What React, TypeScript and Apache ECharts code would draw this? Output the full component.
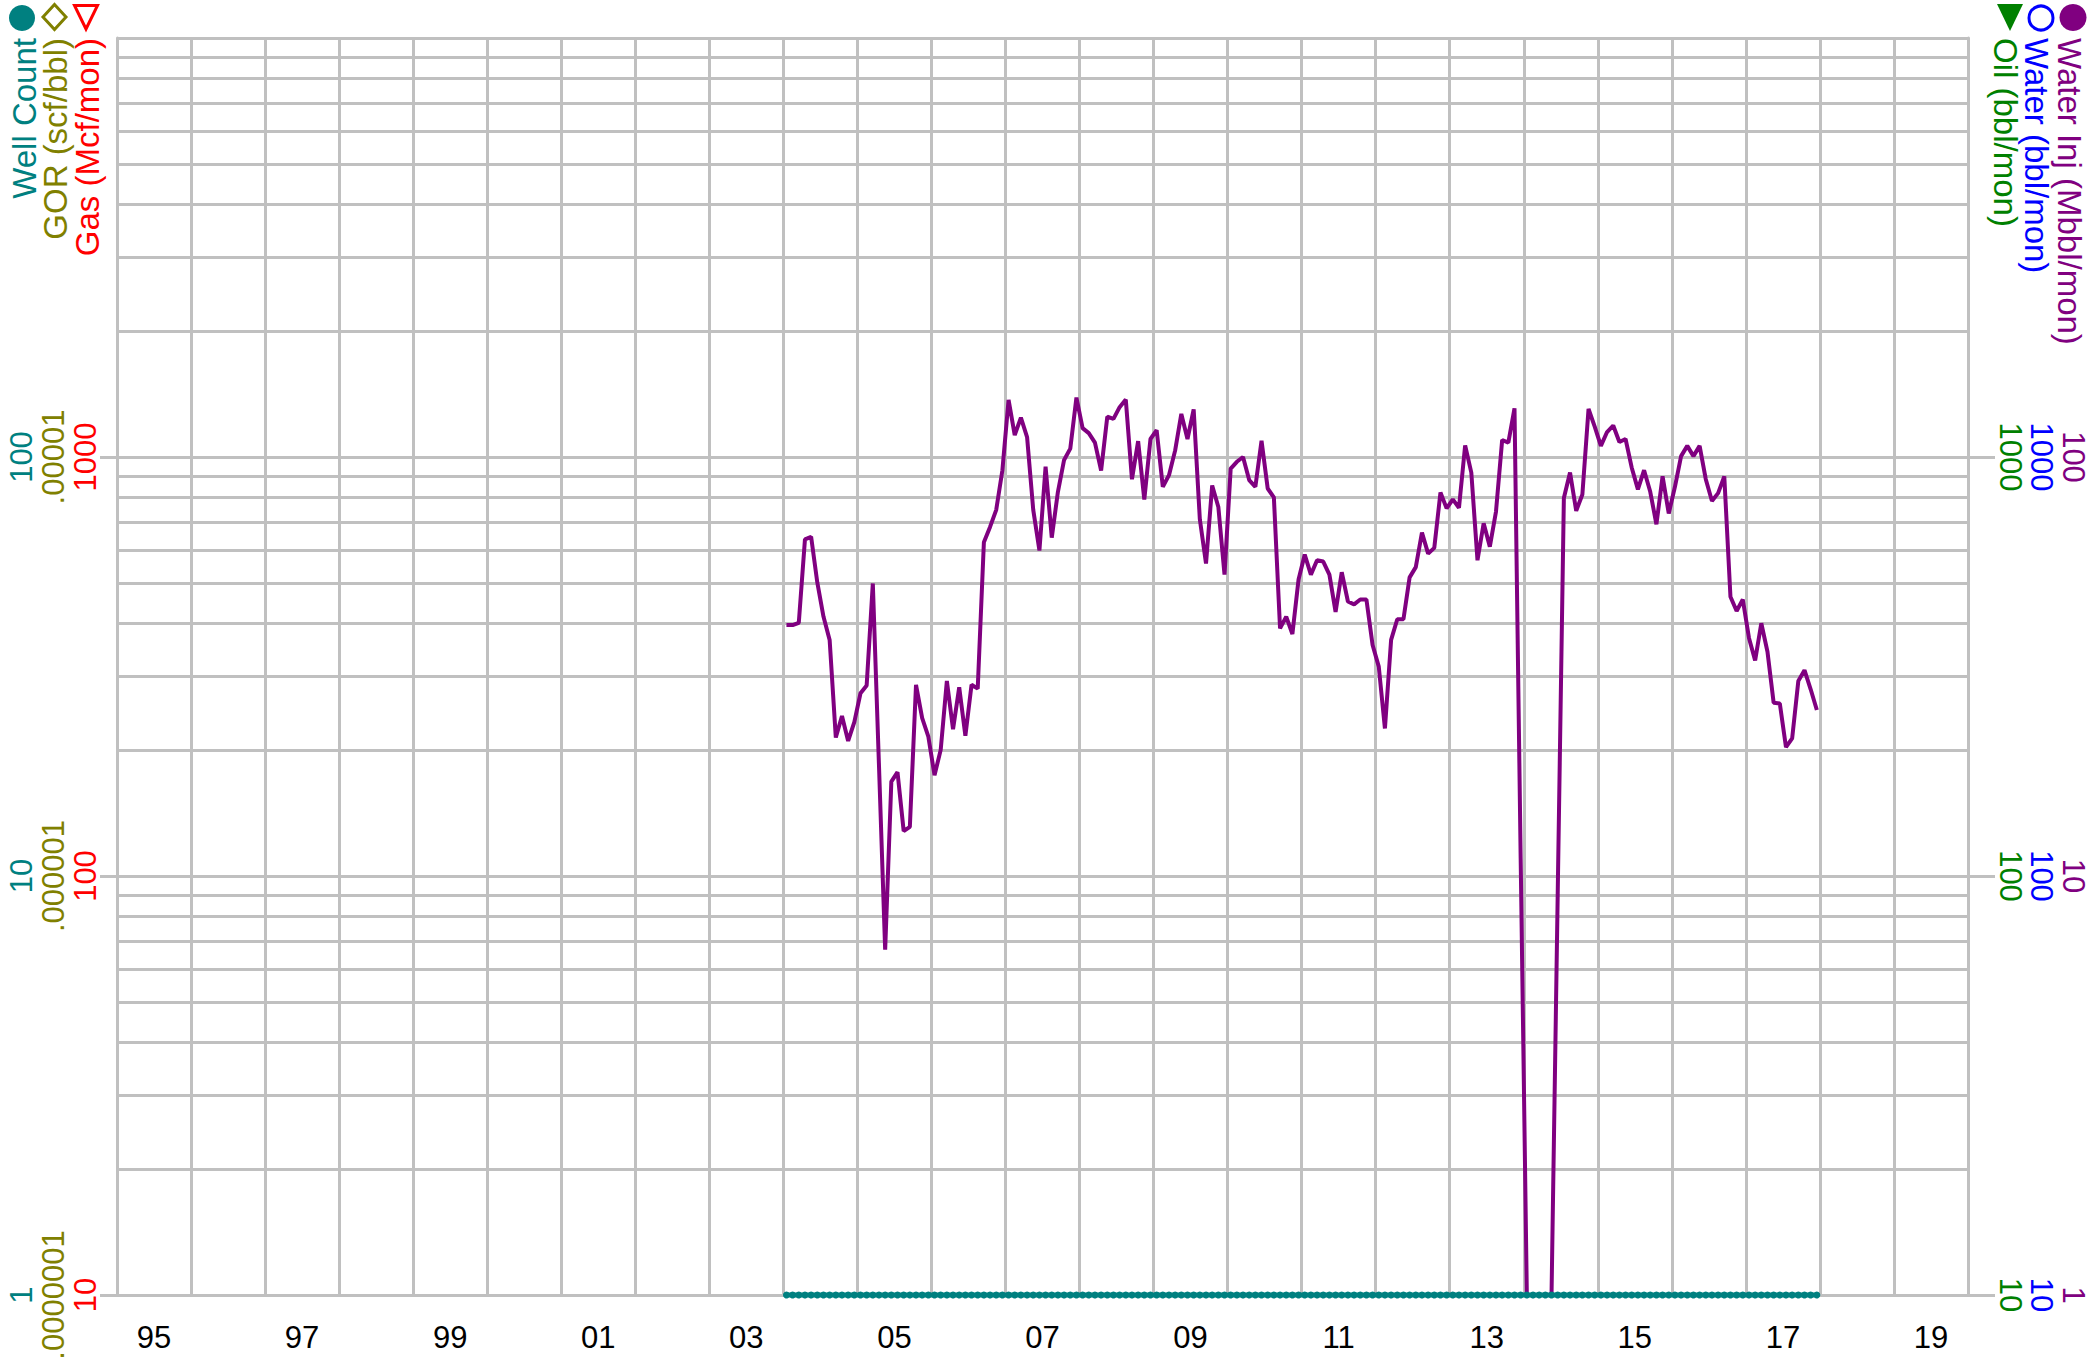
import React, { useEffect, useRef } from 'react';
import * as echarts from 'echarts';

// x-axis year labels (one category per year, labelled every other year)
const yearLabels = ['95', '96', '97', '98', '99', '00', '01', '02', '03', '04', '05', '06', '07', '08', '09', '10', '11', '12', '13', '14', '15', '16', '17', '18', '19'];
const xStart = 1995;
const xEnd = 2020;
const dataStartYear = 2004;

// Water injection, Mbbl/mon, monthly Jan 2004 .. Dec 2017
const waterInj = [
  39.7, 39.7, 40.2, 63.6, 64.5, 50.2, 41.6, 36.6, 21.4, 24.1, 21.0, 23.3,
  27.3, 28.5, 49.9, 18.3, 6.67, 16.8, 17.7, 12.8, 13.1, 28.6, 23.8, 21.5,
  17.4, 20.0, 29.2, 22.4, 28.2, 21.6, 28.6, 28.0, 62.6, 68.1, 74.8, 93.0,
  136.9, 112.8, 124.2, 111.6, 74.8, 59.8, 94.8, 64.2, 82.6, 98.4, 104.7, 138.6,
  117.2, 114.0, 108.2, 92.8, 124.8, 123.3, 131.5, 137.1, 88.5, 109.1, 79.2, 110.4,
  115.9, 84.9, 90.5, 103.7, 126.7, 110.4, 129.9, 71.0, 55.7, 85.5, 76.0, 52.4,
  93.8, 97.4, 100.0, 88.1, 84.9, 109.3, 84.1, 80.1, 39.0, 41.6, 37.8, 51.0,
  58.5, 52.4, 56.7, 56.3, 52.4, 42.7, 53.1, 45.2, 44.5, 45.7, 45.7, 35.6,
  31.6, 22.5, 36.6, 41.0, 41.0, 51.6, 54.6, 66.0, 58.8, 60.7, 82.3, 75.4,
  79.2, 75.6, 106.6, 91.8, 56.7, 69.5, 61.1, 74.1, 109.8, 108.2, 130.7, 11,
  1, 1, 1, 1, 1, 9, 79.8, 91.8, 74.4, 81.4, 130.2, 118.2,
  106.3, 114.7, 118.9, 108.6, 110.4, 94.3, 83.7, 93.0, 82.6, 69.1, 89.9, 73.3,
  84.9, 100.5, 106.3, 100.5, 106.3, 88.5, 78.5, 82.0, 89.9, 46.4, 42.9, 45.7,
  37.0, 32.7, 40.1, 34.3, 25.9, 25.8, 20.3, 21.3, 29.2, 31.0, 27.9, 24.9,
];

// Well count, monthly Jan 2004 .. Dec 2017
const wellCount = [
  1, 1, 1, 1, 1, 1, 1, 1, 1, 1, 1, 1,
  1, 1, 1, 1, 1, 1, 1, 1, 1, 1, 1, 1,
  1, 1, 1, 1, 1, 1, 1, 1, 1, 1, 1, 1,
  1, 1, 1, 1, 1, 1, 1, 1, 1, 1, 1, 1,
  1, 1, 1, 1, 1, 1, 1, 1, 1, 1, 1, 1,
  1, 1, 1, 1, 1, 1, 1, 1, 1, 1, 1, 1,
  1, 1, 1, 1, 1, 1, 1, 1, 1, 1, 1, 1,
  1, 1, 1, 1, 1, 1, 1, 1, 1, 1, 1, 1,
  1, 1, 1, 1, 1, 1, 1, 1, 1, 1, 1, 1,
  1, 1, 1, 1, 1, 1, 1, 1, 1, 1, 1, 1,
  1, 1, 1, 1, 1, 1, 1, 1, 1, 1, 1, 1,
  1, 1, 1, 1, 1, 1, 1, 1, 1, 1, 1, 1,
  1, 1, 1, 1, 1, 1, 1, 1, 1, 1, 1, 1,
  1, 1, 1, 1, 1, 1, 1, 1, 1, 1, 1, 1,
];

// minor log gridlines on the 1..1000 scale
const minorGrid = [2, 3, 4, 5, 6, 7, 8, 9, 20, 30, 40, 50, 60, 70, 80, 90, 200, 300, 400, 500, 600, 700, 800, 900];

const FONT = '"Liberation Sans", Arial, Helvetica, sans-serif';
const GRID = '#c0c0c0';
const PURPLE = '#800080';
const TEAL = '#008080';
const OLIVE = '#808000';
const RED = '#ff0000';
const BLUE = '#0000ff';
const GREEN = '#008000';

export default function App() {
  const ref = useRef<HTMLDivElement>(null);

  useEffect(() => {
    const chart = echarts.init(ref.current as HTMLDivElement, null, { renderer: 'svg' });
    const monthX = (i: number) => dataStartYear + (i + 0.5) / 12;
    const fmtInt = (v: number) => String(Math.round(v));
    const fmtDec = (v: number) => (v >= 9.9e-5 ? '' : v.toFixed(10).replace(/0+$/, '').replace(/^0/, ''));
    const yLabel = (color: string, rotate: number, margin: number, formatter: any) => ({
      show: true, color, rotate, margin, fontSize: 31, fontFamily: FONT,
      showMaxLabel: false, showMinLabel: true, formatter,
    });
    const hidden = { axisLine: { show: false }, axisTick: { show: false }, splitLine: { show: false } };
    const titleFont = { fontSize: 33, fontFamily: FONT };

    const option: any = {
      animation: false,
      backgroundColor: '#ffffff',
      grid: { left: 117, right: 123, top: 38, bottom: 72, containLabel: false },
      xAxis: [
        {
          type: 'category', data: yearLabels, boundaryGap: true, position: 'bottom',
          axisLine: { show: true, lineStyle: { color: GRID, width: 3 } },
          axisTick: { show: false },
          axisLabel: { interval: 1, color: '#000', fontSize: 31, fontFamily: FONT, margin: 27 },
          splitLine: { show: true, interval: 0, lineStyle: { color: GRID, width: 3 } },
        },
        { type: 'value', min: xStart, max: xEnd, show: false, position: 'bottom' },
      ],
      yAxis: [
        {
          type: 'log', logBase: 10, min: 1, max: 1000, position: 'right',
          axisLine: { show: true, lineStyle: { color: GRID, width: 3 } },
          axisTick: { show: true, length: 27, lineStyle: { color: GRID, width: 3 } },
          splitLine: { show: true, lineStyle: { color: GRID, width: 3 } },
          axisLabel: yLabel(PURPLE, -90, 90, fmtInt),
        },
        { type: 'log', logBase: 10, min: 10, max: 10000, position: 'right', ...hidden, axisLabel: yLabel(BLUE, -90, 58, fmtInt) },
        { type: 'log', logBase: 10, min: 10, max: 10000, position: 'right', ...hidden, axisLabel: yLabel(GREEN, -90, 27, fmtInt) },
        {
          type: 'log', logBase: 10, min: 10, max: 10000, position: 'left',
          axisLine: { show: true, lineStyle: { color: GRID, width: 3 } },
          axisTick: { show: true, length: 17, lineStyle: { color: GRID, width: 3 } },
          splitLine: { show: false },
          axisLabel: yLabel(RED, 90, 16, fmtInt),
        },
        { type: 'log', logBase: 10, min: 1e-7, max: 1e-4, position: 'left', ...hidden, axisLabel: yLabel(OLIVE, 90, 48, fmtDec) },
        { type: 'log', logBase: 10, min: 1, max: 1000, position: 'left', ...hidden, axisLabel: yLabel(TEAL, 90, 80, fmtInt) },
      ],
      series: [
        {
          name: 'grid', type: 'line', xAxisIndex: 1, yAxisIndex: 0, z: 1, silent: true,
          data: [[xStart, 1]], showSymbol: false, lineStyle: { opacity: 0 },
          markLine: {
            z: 1, silent: true, symbol: ['none', 'none'], label: { show: false },
            lineStyle: { color: GRID, width: 3, type: 'solid' },
            emphasis: { disabled: true },
            data: minorGrid.map((v) => ({ yAxis: v })),
          },
        },
        {
          name: 'Water Inj', type: 'line', xAxisIndex: 1, yAxisIndex: 0, z: 3,
          data: waterInj.map((v, i) => [monthX(i), v]),
          showSymbol: false, lineStyle: { color: PURPLE, width: 4 }, itemStyle: { color: PURPLE },
        },
        {
          name: 'Well Count', type: 'line', xAxisIndex: 1, yAxisIndex: 5, z: 4, clip: false,
          data: wellCount.map((v, i) => [monthX(i), v]),
          symbol: 'circle', symbolSize: 7, showSymbol: true,
          lineStyle: { color: TEAL, width: 5 }, itemStyle: { color: TEAL },
        },
      ],
      graphic: [
        // left titles (reading bottom to top)
        { type: 'text', x: 24, y: 38, rotation: Math.PI / 2, style: { text: 'Well Count', fill: TEAL, align: 'right', verticalAlign: 'middle', ...titleFont } },
        { type: 'text', x: 55, y: 38, rotation: Math.PI / 2, style: { text: 'GOR (scf/bbl)', fill: OLIVE, align: 'right', verticalAlign: 'middle', ...titleFont } },
        { type: 'text', x: 87, y: 38, rotation: Math.PI / 2, style: { text: 'Gas (Mcf/mon)', fill: RED, align: 'right', verticalAlign: 'middle', ...titleFont } },
        // right titles (reading top to bottom)
        { type: 'text', x: 2005, y: 38, rotation: -Math.PI / 2, style: { text: 'Oil (bbl/mon)', fill: GREEN, align: 'left', verticalAlign: 'middle', ...titleFont } },
        { type: 'text', x: 2036, y: 38, rotation: -Math.PI / 2, style: { text: 'Water (bbl/mon)', fill: BLUE, align: 'left', verticalAlign: 'middle', ...titleFont } },
        { type: 'text', x: 2069, y: 38, rotation: -Math.PI / 2, style: { text: 'Water Inj (Mbbl/mon)', fill: PURPLE, align: 'left', verticalAlign: 'middle', ...titleFont } },
        // left legend symbols
        { type: 'circle', shape: { cx: 22, cy: 18, r: 13 }, style: { fill: TEAL } },
        { type: 'polygon', shape: { points: [[54.5, 4.5], [66, 17], [54.5, 29.5], [43, 17]] }, style: { fill: 'none', stroke: OLIVE, lineWidth: 3 } },
        { type: 'polygon', shape: { points: [[74.5, 5.5], [97.5, 5.5], [86, 29]] }, style: { fill: 'none', stroke: RED, lineWidth: 3 } },
        // right legend symbols
        { type: 'polygon', shape: { points: [[1997, 4], [2023, 4], [2010, 31]] }, style: { fill: GREEN } },
        { type: 'circle', shape: { cx: 2041, cy: 18, r: 12 }, style: { fill: 'none', stroke: BLUE, lineWidth: 3 } },
        { type: 'circle', shape: { cx: 2073, cy: 17.5, r: 13.5 }, style: { fill: PURPLE } },
      ],
    };

    chart.setOption(option);
    return () => chart.dispose();
  }, []);

  return (
    <div
      ref={ref}
      style={{ position: 'fixed', left: 0, top: 0, width: 2091, height: 1367, background: '#fff' }}
    />
  );
}
